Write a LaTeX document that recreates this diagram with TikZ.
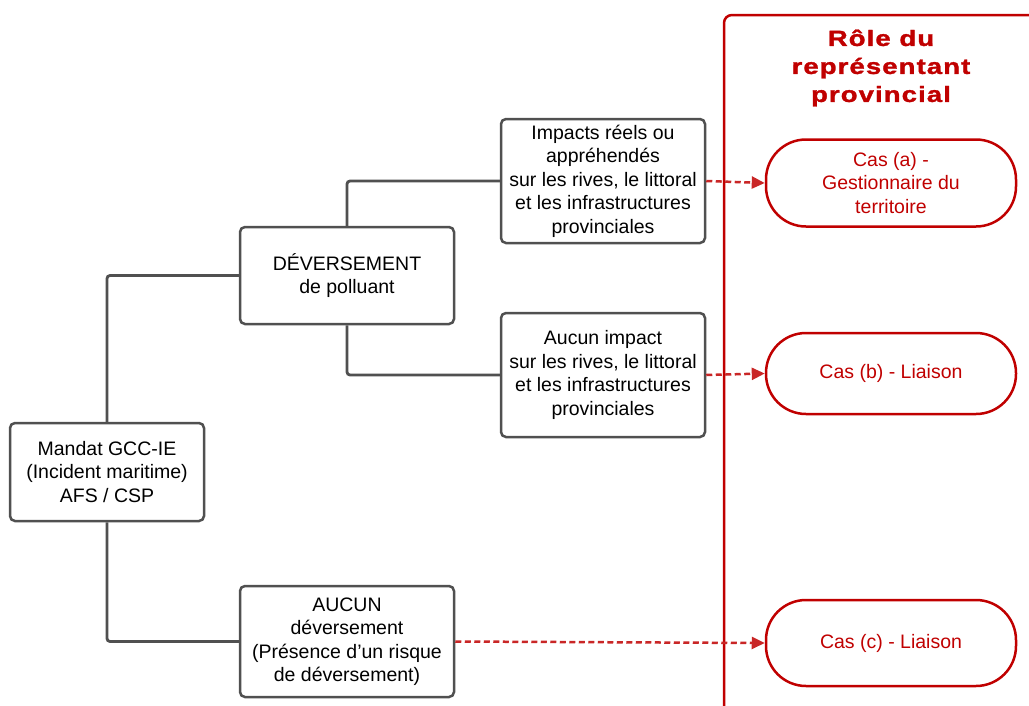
\documentclass[tikz,border=0pt]{standalone}
\usepackage{fontspec}
\setmainfont{Liberation Sans}
\newfontfamily\titrefont[FakeStretch=1.25, LetterSpace=5, BoldFeatures={FakeBold=1.5}]{Liberation Sans}
\usepackage{xcolor}
\definecolor{rouge}{HTML}{C00000}
\definecolor{gristrait}{HTML}{505050}
\usetikzlibrary{arrows.meta}

\begin{document}
\begin{tikzpicture}[x=1pt,y=-1pt,
    boite/.style={draw=gristrait, line width=2.5pt, rounded corners=5pt, align=center,
      inner sep=0pt, font=\fontsize{19.5}{23.5}\selectfont},
    cas/.style={draw=rouge, line width=2.5pt, rounded corners=40pt, align=center,
      inner sep=0pt, text=rouge, minimum width=250pt, font=\fontsize{19.5}{23.5}\selectfont},
    lien/.style={draw=gristrait, line width=2.8pt, rounded corners=3pt},
    fleche/.style={draw=rouge!85!white, line width=2.5pt, dash pattern=on 6pt off 3.5pt, -{Triangle[length=13pt,width=12pt]}}]
  \useasboundingbox (0,0) rectangle (1029,705);

  % panneau rouge
  \draw[rouge, line width=2.5pt, rounded corners=8pt] (724,720) -- (724,15) -- (1045,15);
  \draw (881,68) node[text=rouge, align=center, font=\titrefont\bfseries\fontsize{22}{28}\selectfont] (titre)
    {R\^ole du\\repr\'esentant\\provincial};

  % boites
  \draw (107,472) node[boite, minimum width=194pt, minimum height=98pt] (mandat)
    {Mandat GCC-IE\\(Incident maritime)\\AFS / CSP};
  \draw (347,275.5) node[boite, minimum width=214pt, minimum height=97pt] (deversement)
    {D\'EVERSEMENT\\de polluant};
  \draw (603,181) node[boite, minimum width=204pt, minimum height=124pt] (impacts)
    {Impacts r\'eels ou\\appr\'ehend\'es\\sur les rives, le littoral\\et les infrastructures\\provinciales};
  \draw (603,375) node[boite, minimum width=204pt, minimum height=124pt] (aucunimpact)
    {Aucun impact\\sur les rives, le littoral\\et les infrastructures\\provinciales};
  \draw (347,641.5) node[boite, minimum width=214pt, minimum height=111pt] (aucundev)
    {AUCUN\\d\'eversement\\(Pr\'esence d'un risque\\de d\'eversement)};

  % cas
  \draw (891,183) node[cas, minimum height=87pt] (casa) {Cas (a) -\\Gestionnaire du\\territoire};
  \draw (891,373.5) node[cas, minimum height=81pt] (casb) {Cas (b) - Liaison};
  \draw (891,643) node[cas, minimum height=86pt] (casc) {Cas (c) - Liaison};

  % liens
  \path[lien] (mandat.north) |- (deversement.west);
  \path[lien] (mandat.south) |- (aucundev.west);
  \path[lien] (deversement.north) |- (impacts.west);
  \path[lien] (deversement.south) |- (aucunimpact.west);

  \path[fleche] (impacts.east) -- (casa.west);
  \path[fleche] (aucunimpact.east) -- (casb.west);
  \path[fleche] (aucundev.east) -- (casc.west);
\end{tikzpicture}
\end{document}
